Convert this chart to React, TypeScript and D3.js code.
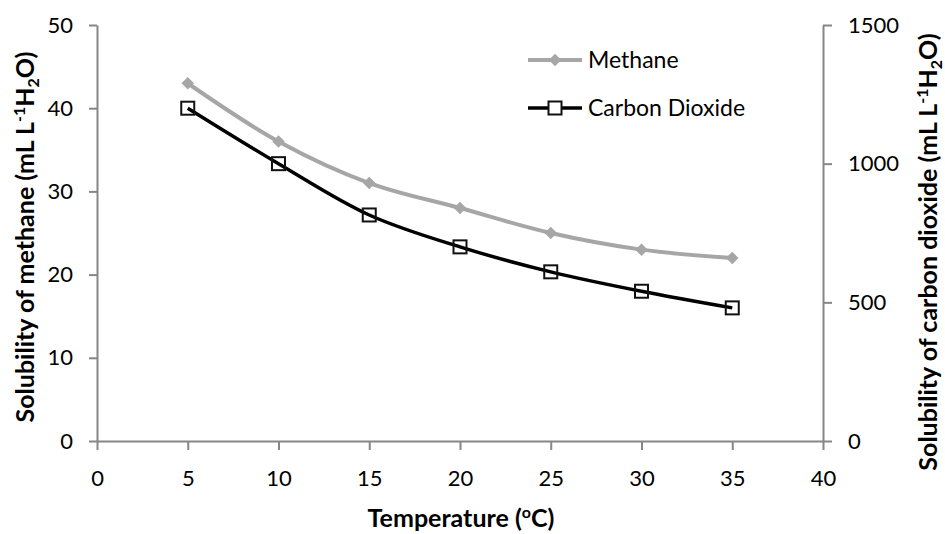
import React, { useRef, useEffect } from 'react';
import * as d3 from 'd3';

const temps = [5, 10, 15, 20, 25, 30, 35];
const methane = [43, 36, 31, 28, 25, 23, 22];
const co2 = [1200, 1000, 815, 700, 610, 540, 480];
const xTicks = [0, 5, 10, 15, 20, 25, 30, 35, 40];
const leftTicks = [0, 10, 20, 30, 40, 50];
const rightTicks = [0, 500, 1000, 1500];

const W = 945;
const H = 534;
const FONT = 'Lato, "Open Sans", sans-serif';
const AXIS = '#868686';

const App = () => {
    const ref = useRef<SVGSVGElement | null>(null);

    useEffect(() => {
        const svg = d3.select(ref.current);
        svg.selectAll('*').remove();

        const x = d3.scaleLinear().domain([0, 40]).range([97, 823]);
        const yL = d3.scaleLinear().domain([0, 50]).range([441, 25]);
        const yR = d3.scaleLinear().domain([0, 1500]).range([441, 25]);

        // left axis
        const gl = svg.append('g').attr('transform', 'translate(97,0)');
        gl.call(d3.axisLeft(yL).tickValues(leftTicks).tickSize(8).tickPadding(16).tickSizeOuter(0));
        // right axis
        const gr = svg.append('g').attr('transform', 'translate(823,0)');
        gr.call(d3.axisRight(yR).tickValues(rightTicks).tickFormat(d3.format('d')).tickSize(9).tickPadding(16).tickSizeOuter(0));
        // bottom axis
        const gb = svg.append('g').attr('transform', 'translate(0,441)');
        gb.call(d3.axisBottom(x).tickValues(xTicks).tickSize(9).tickPadding(20).tickSizeOuter(0));

        [gl, gr, gb].forEach(g => {
            g.select('.domain').attr('stroke', AXIS).attr('stroke-width', 2);
            g.selectAll('.tick line').attr('stroke', AXIS).attr('stroke-width', 2);
            g.selectAll('.tick text').attr('fill', '#000').style('font-size', '22px').style('font-family', FONT);
        });

        // lines
        const lineM = d3.line<number>()
            .x((d, i) => x(temps[i]))
            .y(d => yL(d))
            .curve(d3.curveCatmullRom.alpha(0.5));
        const lineC = d3.line<number>()
            .x((d, i) => x(temps[i]))
            .y(d => yR(d))
            .curve(d3.curveCatmullRom.alpha(0.5));

        svg.append('path').datum(methane).attr('d', lineM)
            .attr('fill', 'none').attr('stroke', '#a6a6a6').attr('stroke-width', 4);
        svg.append('path').datum(co2).attr('d', lineC)
            .attr('fill', 'none').attr('stroke', '#000').attr('stroke-width', 3.5);

        const diamond = d3.symbol().type(d3.symbolDiamond2).size(100);
        svg.selectAll('.m').data(methane).enter().append('path')
            .attr('d', diamond)
            .attr('transform', (d, i) => `translate(${x(temps[i])},${yL(d)})`)
            .attr('fill', '#a6a6a6');

        svg.selectAll('.c').data(co2).enter().append('rect')
            .attr('x', (d, i) => x(temps[i]) - 6.5)
            .attr('y', d => yR(d) - 6.5)
            .attr('width', 13).attr('height', 13)
            .attr('fill', 'none').attr('stroke', '#111').attr('stroke-width', 2);

        // legend
        const lg = svg.append('g');
        lg.append('line').attr('x1', 528).attr('x2', 582).attr('y1', 60).attr('y2', 60)
            .attr('stroke', '#a6a6a6').attr('stroke-width', 4);
        lg.append('path').attr('d', diamond).attr('transform', 'translate(555,60)').attr('fill', '#a6a6a6');
        lg.append('text').attr('x', 588).attr('y', 68).text('Methane')
            .style('font-size', '23px').style('font-family', FONT);
        lg.append('line').attr('x1', 528).attr('x2', 582).attr('y1', 108).attr('y2', 108)
            .attr('stroke', '#000').attr('stroke-width', 3.5);
        lg.append('rect').attr('x', 548.5).attr('y', 101.5).attr('width', 13).attr('height', 13)
            .attr('fill', '#fff').attr('stroke', '#111').attr('stroke-width', 2);
        lg.append('text').attr('x', 588).attr('y', 116).text('Carbon Dioxide')
            .style('font-size', '23px').style('font-family', FONT);

        // titles
        const xt = svg.append('text').attr('x', 461).attr('y', 527).attr('text-anchor', 'middle')
            .style('font-size', '25px').style('font-weight', 'bold').style('font-family', FONT);
        xt.append('tspan').text('Temperature (');
        xt.append('tspan').text('o').attr('dy', -9).style('font-size', '16px');
        xt.append('tspan').text('C)').attr('dy', 9);

        const addYTitle = (label: string, cx: number, cy: number) => {
            const t = svg.append('text')
                .attr('transform', `translate(${cx},${cy}) rotate(-90)`)
                .attr('text-anchor', 'middle')
                .style('font-size', '25px').style('font-weight', 'bold').style('font-family', FONT);
            t.append('tspan').text(label + ' (mL L');
            t.append('tspan').text('-1').attr('dy', -9).style('font-size', '16px');
            t.append('tspan').text('H').attr('dy', 9);
            t.append('tspan').text('2').attr('dy', 5).style('font-size', '16px');
            t.append('tspan').text('O)').attr('dy', -5);
        };
        addYTitle('Solubility of methane', 34, 237);
        addYTitle('Solubility of carbon dioxide', 937, 252);
    }, []);

    return <svg ref={ref} width={W} height={H} style={{ display: 'block', position: 'absolute', left: 0, top: 0, background: '#fff' }} />;
};

export default App;
